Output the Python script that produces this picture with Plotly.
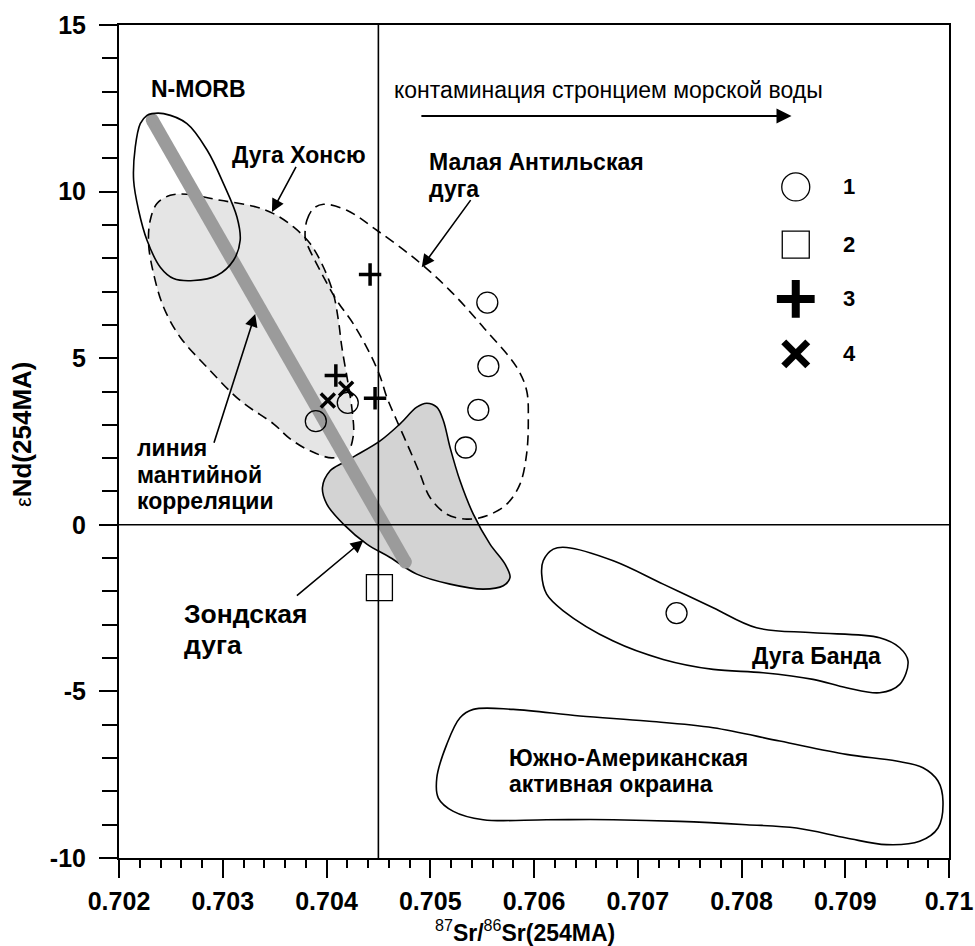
import plotly.graph_objects as go

# ---------------- data ----------------
nmorb_x = [0.702318, 0.70243, 0.702655, 0.70285, 0.703007, 0.703137, 0.703168, 0.703104, 0.702944,
           0.702719, 0.702526, 0.702398, 0.70227, 0.702189, 0.702141, 0.702157, 0.702205, 0.70227]
nmorb_y = [12.34, 12.34, 12.04, 11.24, 10.24, 9.24, 8.54, 7.94, 7.48,
           7.33, 7.39, 7.73, 8.54, 9.44, 10.34, 11.34, 12.04, 12.29]

honshu_x = [0.702494, 0.702655, 0.702976, 0.703296, 0.703489, 0.703682, 0.703842, 0.703971, 0.704067,
            0.704115, 0.704148, 0.704208, 0.704247, 0.704259, 0.704199, 0.704054, 0.703842, 0.70365,
            0.703489, 0.703168, 0.702848, 0.70259, 0.70243, 0.702333, 0.702285, 0.702301, 0.702366]
honshu_y = [9.89, 9.92, 9.74, 9.56, 9.34, 8.94, 8.44, 7.73, 6.93,
            6.13, 5.33, 4.24, 3.43, 2.68, 2.16, 2.01, 2.22, 2.58,
            3.03, 3.73, 4.73, 5.63, 6.53, 7.54, 8.44, 9.14, 9.64]

antilles_x = [0.703794, 0.703811, 0.703874, 0.703971, 0.704196, 0.704485, 0.70487, 0.705191, 0.705511,
              0.705833, 0.705929, 0.705945, 0.705929, 0.705865, 0.705737, 0.705544, 0.705352, 0.705159,
              0.704998, 0.704902, 0.704806, 0.704677, 0.704581, 0.704517, 0.70442, 0.704259, 0.7041,
              0.703939, 0.703811]
antilles_y = [8.64, 9.14, 9.49, 9.62, 9.44, 8.84, 7.94, 7.03, 5.93,
              4.73, 4.03, 3.13, 2.13, 1.22, 0.62, 0.27, 0.17, 0.32,
              0.82, 1.52, 2.22, 3.13, 3.83, 4.45, 5.13, 6.03, 6.73,
              7.63, 8.44]

sunda_x = [0.704276, 0.704517, 0.704709, 0.70487, 0.704966, 0.705063, 0.705126, 0.705191, 0.705287,
           0.705415, 0.705576, 0.705721, 0.705769, 0.705704, 0.705511, 0.705191, 0.70487, 0.704613,
           0.704389, 0.704163, 0.704003, 0.703961, 0.704035, 0.704163]
sunda_y = [2.07, 2.52, 3.03, 3.53, 3.65, 3.53, 3.13, 2.32, 1.32,
           0.32, -0.58, -1.18, -1.58, -1.83, -1.93, -1.78, -1.48, -0.98,
           -0.58, 0.02, 0.62, 1.12, 1.62, 1.87]

banda_x = [0.706089, 0.706186, 0.706315, 0.706764, 0.707245, 0.707727, 0.708145, 0.70869, 0.709332,
           0.709525, 0.709605, 0.709525, 0.709332, 0.709011, 0.70869, 0.708208, 0.707727, 0.707245,
           0.706764, 0.706282, 0.706122, 0.706074]
banda_y = [-1.08, -0.73, -0.68, -1.08, -1.78, -2.49, -3.09, -3.24, -3.39,
           -3.69, -4.09, -4.79, -5.04, -4.89, -4.64, -4.44, -4.34, -4.04,
           -3.49, -2.58, -2.08, -1.48]

samerica_x = [0.705415, 0.7058, 0.706443, 0.707085, 0.707727, 0.708369, 0.709011, 0.709493, 0.709749,
              0.709894, 0.709942, 0.709894, 0.709717, 0.709397, 0.709011, 0.70853, 0.708048, 0.707406,
              0.706764, 0.706122, 0.705511, 0.705223, 0.705078, 0.705063, 0.705159, 0.705287]
samerica_y = [-5.54, -5.54, -5.74, -5.89, -6.09, -6.49, -6.89, -7.09, -7.29,
              -7.69, -8.30, -9.10, -9.50, -9.60, -9.40, -9.10, -9.00, -8.90,
              -8.85, -8.85, -8.85, -8.60, -8.20, -7.60, -6.59, -5.79]

mantle_x = [0.70232, 0.70476]
mantle_y = [12.15, -1.12]

type1_x = [0.703897, 0.704205, 0.70555, 0.70556, 0.705463, 0.705342, 0.707374]
type1_y = [3.11, 3.66, 6.67, 4.76, 3.45, 2.32, -2.65]
type2_x = [0.70451]
type2_y = [-1.885]
type3_x = [0.70442, 0.70409, 0.704468]
type3_y = [7.51, 4.48, 3.80]
type4_x = [0.704013, 0.704189]
type4_y = [3.73, 4.08]

legend_labels = ["1", "2", "3", "4"]
legend_y = [10.14, 8.41, 6.78, 5.13]

x_ticks = [0.702, 0.703, 0.704, 0.705, 0.706, 0.707, 0.708, 0.709, 0.71]
x_ticktext = ["0.702", "0.703", "0.704", "0.705", "0.706", "0.707", "0.708", "0.709", "0.71"]
y_ticks = [-10, -5, 0, 5, 10, 15]
y_ticktext = ["-10", "-5", "0", "5", "10", "15"]

ref_x = 0.7045
ref_y = 0.0

# ---------------- figure ----------------
FONT = "Arial, 'Liberation Sans', sans-serif"
fig = go.Figure()


def closed(xs, ys):
    return xs + [xs[0]], ys + [ys[0]]


def region(xs, ys, fill=None, dash="solid"):
    cx, cy = closed(xs, ys)
    fig.add_trace(go.Scatter(
        x=cx, y=cy, mode="lines",
        line=dict(color="black", width=1.6, dash=dash, shape="spline", smoothing=1.0),
        fill="toself" if fill else "none",
        fillcolor=fill if fill else None,
        hoverinfo="skip", showlegend=False))


DASH = "10px,6px"
region(honshu_x, honshu_y, fill="#e5e5e5", dash=DASH)
region(sunda_x, sunda_y, fill="#d3d3d3")

# mantle correlation line (thick grey band)
fig.add_trace(go.Scatter(
    x=mantle_x, y=mantle_y, mode="lines+markers",
    line=dict(color="#9b9b9b", width=13),
    marker=dict(color="#9b9b9b", size=13, line=dict(width=0)),
    hoverinfo="skip", showlegend=False))

region(nmorb_x, nmorb_y)
region(antilles_x, antilles_y, dash=DASH)
region(banda_x, banda_y)
region(samerica_x, samerica_y)

# data points
fig.add_trace(go.Scatter(x=type1_x, y=type1_y, mode="markers",
                         marker=dict(symbol="circle-open", size=21, color="black", line=dict(width=1.3)),
                         showlegend=False))
fig.add_trace(go.Scatter(x=type2_x, y=type2_y, mode="markers",
                         marker=dict(symbol="square-open", size=26, color="black", line=dict(width=1.3)),
                         showlegend=False))
fig.add_trace(go.Scatter(x=type3_x, y=type3_y, mode="markers",
                         marker=dict(symbol="cross-thin-open", size=16, color="black", line=dict(width=3.5)),
                         showlegend=False))
fig.add_trace(go.Scatter(x=type4_x, y=type4_y, mode="markers",
                         marker=dict(symbol="x-thin-open", size=14, color="black", line=dict(width=3.5)),
                         showlegend=False))

# hand-drawn legend
LEG_X = 0.708523
LAB_X = 0.70904
leg_symbols = ["circle-open", "square-open", "cross-thin-open", "x-thin-open"]
leg_sizes = [28, 27, 27, 24]
leg_widths = [1.3, 1.3, 8, 7]
for sym, sz, lw, yy, lab in zip(leg_symbols, leg_sizes, leg_widths, legend_y, legend_labels):
    fig.add_trace(go.Scatter(x=[LEG_X], y=[yy], mode="markers",
                             marker=dict(symbol=sym, size=sz, color="black", line=dict(width=lw)),
                             showlegend=False))
    fig.add_annotation(x=LAB_X, y=yy, text="<b>%s</b>" % lab, showarrow=False,
                       xanchor="center", yanchor="middle", font=dict(size=22, color="black", family=FONT))

# reference lines
fig.add_shape(type="line", x0=ref_x, x1=ref_x, y0=-10, y1=15, xref="x", yref="y",
              line=dict(color="black", width=1.6), layer="above")
fig.add_shape(type="line", x0=0.702, x1=0.71, y0=ref_y, y1=ref_y, xref="x", yref="y",
              line=dict(color="black", width=1.6), layer="above")

# text labels
def label(x, y, text, size=23, bold=True, anchor="left"):
    t = "<b>%s</b>" % text if bold else text
    fig.add_annotation(x=x, y=y, text=t, showarrow=False, xanchor=anchor, yanchor="middle",
                       align="left", font=dict(size=size, color="black", family=FONT))

label(0.702285, 13.07, "N-MORB")
label(0.704629, 13.04, "контаминация стронцием морской воды", size=23, bold=False)
label(0.703072, 11.09, "Дуга Хонсю")
label(0.704966, 10.89, "Малая Антильская")
label(0.704966, 10.09, "дуга")
label(0.702158, 2.32, "линия")
label(0.702158, 1.49, "мантийной")
label(0.702158, 0.70, "корреляции")
label(0.702607, -2.68, "Зондская", size=26.5)
label(0.702607, -3.62, "дуга", size=26.5)
label(0.70808, -3.94, "Дуга Банда")
label(0.705737, -6.99, "Южно-Американская")
label(0.705737, -7.79, "активная окраина")

# arrows (head x,y ; tail ax,ay)
def arrow(x, y, ax, ay, width=1.6, size=1.6):
    fig.add_annotation(x=x, y=y, ax=ax, ay=ay, xref="x", yref="y", axref="x", ayref="y",
                       text="", showarrow=True, arrowhead=2, arrowsize=size, arrowwidth=width,
                       arrowcolor="black")

arrow(0.708482, 12.27, 0.7049, 12.27, width=2, size=1.5)
arrow(0.703474, 9.39, 0.703714, 10.79)
arrow(0.704918, 7.73, 0.7054, 9.79)
arrow(0.703313, 6.33, 0.702911, 2.42)
arrow(0.704356, -0.46, 0.7037, -2.16)

# axis titles
fig.add_annotation(xref="paper", yref="paper", x=(22 - 119) / 831, y=(858 - 434) / 833,
                   text="<span style='font-size:22px'>ε</span><b>Nd(254MA)</b>", textangle=-90,
                   showarrow=False, xanchor="center", yanchor="middle",
                   font=dict(size=26, color="black", family=FONT))
fig.add_annotation(xref="paper", yref="paper", x=(525 - 119) / 831, y=-(931 - 858) / 833,
                   text="<sup>87</sup><b>Sr/</b><sup>86</sup><b>Sr(254MA)</b>",
                   showarrow=False, xanchor="center", yanchor="middle",
                   font=dict(size=23, color="black", family=FONT))

fig.update_xaxes(range=[0.702, 0.71], tickvals=x_ticks, ticktext=x_ticktext,
                 showgrid=False, zeroline=False, showline=True, mirror=True,
                 linecolor="black", linewidth=2, ticks="outside", ticklen=18, tickwidth=2,
                 tickcolor="black", ticklabelstandoff=2,
                 tickfont=dict(size=25, color="black", family=FONT, weight="bold"),
                 minor=dict(dtick=0.0002, tick0=0.702, ticks="outside", ticklen=8, tickwidth=2,
                            tickcolor="black", showgrid=False))
fig.update_yaxes(range=[-10, 15], tickvals=y_ticks, ticktext=y_ticktext,
                 showgrid=False, zeroline=False, showline=True, mirror=True,
                 linecolor="black", linewidth=2, ticks="outside", ticklen=18, tickwidth=2,
                 tickcolor="black", ticklabelstandoff=8,
                 tickfont=dict(size=25, color="black", family=FONT, weight="bold"),
                 minor=dict(dtick=1, tick0=0, ticks="outside", ticklen=15, tickwidth=2,
                            tickcolor="black", showgrid=False))

fig.update_layout(width=975, height=946, margin=dict(l=119, r=26, t=25, b=88, autoexpand=False),
                  paper_bgcolor="white", plot_bgcolor="white", showlegend=False,
                  font=dict(family=FONT, color="black"))

fig.write_html("out.html", config={"displayModeBar": False},
               post_script="document.body.style.margin='0px';")
